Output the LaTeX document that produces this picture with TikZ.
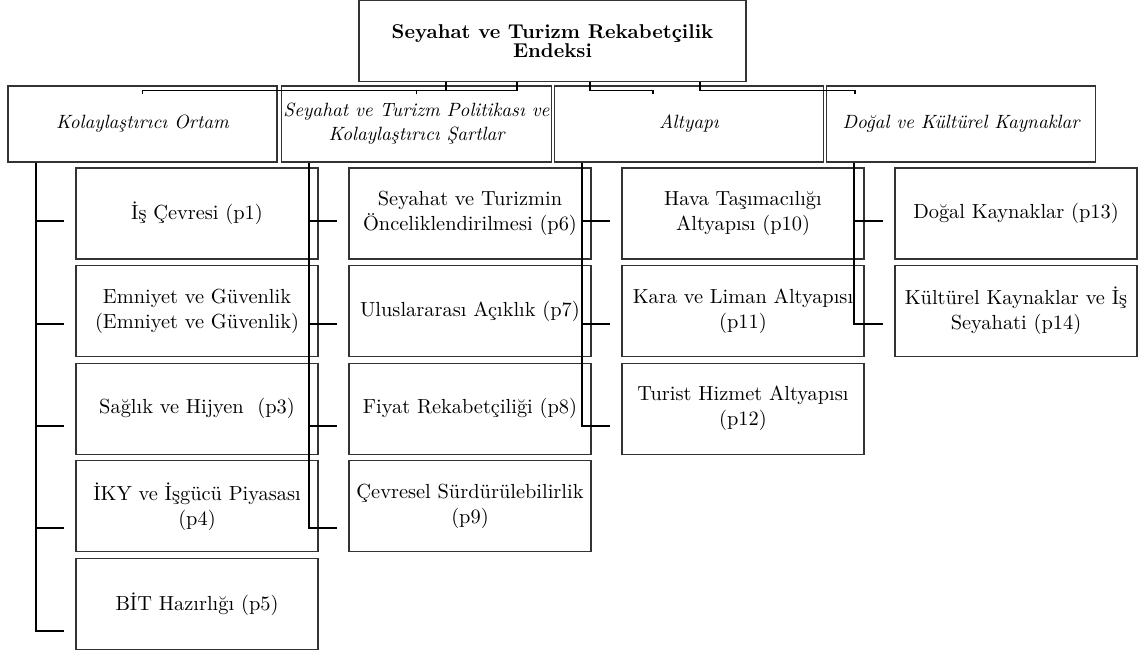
\documentclass[tikz,border=0pt]{standalone}
\usetikzlibrary{positioning}

\begin{document}
\begin{tikzpicture}[x=0.5pt, y=-0.5pt, line width=0.55pt, node distance=2.75pt,
    top/.style = {draw=black!80, minimum width=193.5pt, minimum height=40.5pt, align=center, inner sep=1pt, font=\fontsize{10}{9.5}\selectfont\bfseries},
    grp/.style = {draw=black!80, minimum width=134.5pt, minimum height=38pt, align=center, inner sep=1pt, font=\fontsize{9.6}{12}\selectfont\itshape},
    box/.style = {draw=black!80, minimum width=121pt, minimum height=45.5pt, align=center, inner sep=1pt, font=\fontsize{10.2}{12.5}\selectfont}]
    \useasboundingbox (0,0) rectangle (1139,650);

    % root and the four pillars
    \node[top] (root) at (552.5,41) {Seyahat ve Turizm Rekabetçilik\\Endeksi};
    \node[grp] (g1) at (142.5,124) {Kolaylaştırıcı Ortam};
    \node[grp] (g2) at (416.5,124) {Seyahat ve Turizm Politikası ve\\Kolaylaştırıcı Şartlar};
    \node[grp] (g3) at (689,124) {Altyapı};
    \node[grp] (g4) at (961,124) {Doğal ve Kültürel Kaynaklar};

    % pillar items
    \node[box] (p1) at (197,213.5) {İş Çevresi (p1)};
    \node[box] (p2) [below=of p1] {Emniyet ve Güvenlik\\(Emniyet ve Güvenlik)};
    \node[box] (p3) [below=of p2] {Sağlık ve Hijyen \ (p3)};
    \node[box] (p4) [below=of p3] {İKY ve İşgücü Piyasası\\(p4)};
    \node[box] (p5) [below=of p4] {BİT Hazırlığı (p5)};

    \node[box] (p6) at (470,213.5) {Seyahat ve Turizmin\\Önceliklendirilmesi (p6)};
    \node[box] (p7) [below=of p6] {Uluslararası Açıklık (p7)};
    \node[box] (p8) [below=of p7] {Fiyat Rekabetçiliği (p8)};
    \node[box] (p9) [below=of p8] {Çevresel Sürdürülebilirlik\\(p9)};

    \node[box] (p10) at (743,213.5) {Hava Taşımacılığı\\Altyapısı (p10)};
    \node[box] (p11) [below=of p10] {Kara ve Liman Altyapısı\\(p11)};
    \node[box] (p12) [below=of p11] {Turist Hizmet Altyapısı\\(p12)};

    \node[box] (p13) at (1016,213.5) {Doğal Kaynaklar (p13)};
    \node[box] (p14) [below=of p13] {Kültürel Kaynaklar ve İş\\Seyahati (p14)};

    % tick ends
    \coordinate (t1) at (64,221);
    \coordinate (t2) at (64,324);
    \coordinate (t3) at (64,426);
    \coordinate (t4) at (64,528);
    \coordinate (t5) at (64,631);
    \coordinate (t6) at (337,221);
    \coordinate (t7) at (337,324);
    \coordinate (t8) at (337,426);
    \coordinate (t9) at (337,528);
    \coordinate (t10) at (610,221);
    \coordinate (t11) at (610,324);
    \coordinate (t12) at (610,426);
    \coordinate (t13) at (883,221);
    \coordinate (t14) at (883,324);

    % root to pillars
    \draw (root.south -| 446,0) -- ++(0,8) -| ([yshift=-4.5pt]g1.north);
    \draw (root.south -| 517,0) -- ++(0,8) -| ([yshift=-4.5pt]g2.north);
    \draw (root.south -| 590,0) -- ++(0,8) -| ([xshift=-18pt,yshift=-4.5pt]g3.north);
    \draw (root.south -| 700,0) -- ++(0,8) -| ([xshift=-53pt,yshift=-4.5pt]g4.north);

    % pillars to items
    \draw (g1.south -| 36,0) |- (t1);
    \draw (g1.south -| 36,0) |- (t2);
    \draw (g1.south -| 36,0) |- (t3);
    \draw (g1.south -| 36,0) |- (t4);
    \draw (g1.south -| 36,0) |- (t5);
    \draw (g2.south -| 309,0) |- (t6);
    \draw (g2.south -| 309,0) |- (t7);
    \draw (g2.south -| 309,0) |- (t8);
    \draw (g2.south -| 309,0) |- (t9);
    \draw (g3.south -| 582,0) |- (t10);
    \draw (g3.south -| 582,0) |- (t11);
    \draw (g3.south -| 582,0) |- (t12);
    \draw (g4.south -| 854,0) |- (t13);
    \draw (g4.south -| 854,0) |- (t14);
\end{tikzpicture}
\end{document}
